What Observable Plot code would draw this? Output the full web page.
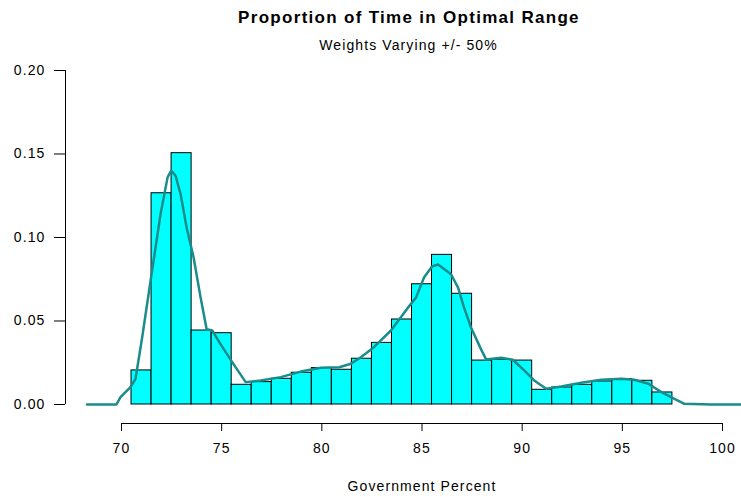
<!DOCTYPE html>
<html>
<head>
<meta charset="utf-8">
<script src="https://cdn.jsdelivr.net/npm/d3@7"></script>
<script src="https://cdn.jsdelivr.net/npm/@observablehq/plot@0.6"></script>
<style>
  html, body { margin: 0; padding: 0; background: #fff; }
  #wrap { position: relative; width: 741px; height: 497px; font-family: "Liberation Sans", Arial, sans-serif; }
  #title { position: absolute; top: 8px; left: 0; width: 818px; text-align: center; font-weight: bold; font-size: 17px; letter-spacing: 1.3px; color: #000; }
  #subtitle { position: absolute; top: 37px; left: 0; width: 817px; text-align: center; font-size: 14px; letter-spacing: 1.1px; color: #000; }
  #chart { position: absolute; top: 55px; left: 0; }
</style>
</head>
<body>
<div id="wrap">
  <div id="title">Proportion of Time in Optimal Range</div>
  <div id="subtitle">Weights Varying +/- 50%</div>
  <div id="chart"></div>
</div>
<script>
// Histogram bins (centres, width 1) and heights
const binCenters = [71,72,73,74,75,76,77,78,79,80,81,82,83,84,85,86,87,88,89,90,91,92,93,94,95,96,97];
const binHeights = [0.0204,0.1265,0.1505,0.0443,0.0427,0.0118,0.0134,0.0154,0.0190,0.0218,0.0208,0.0274,0.0369,0.0509,0.0720,0.0896,0.0663,0.0263,0.0268,0.0263,0.0088,0.0102,0.0118,0.0138,0.0152,0.0142,0.0072];

// Density curve
const densX = [68.28,69.75,69.95,70.45,70.7,71.03,71.45,71.95,72.3,72.48,72.7,72.95,73.25,73.6,73.95,74.25,74.53,74.95,75.6,76.2,76.95,77.95,78.95,79.95,80.87,81.45,81.95,82.6,83.45,84.3,84.7,85.1,85.5,85.8,86.1,86.45,86.8,87.1,87.45,87.95,88.2,88.95,89.53,90.1,90.6,91.2,91.95,92.95,93.95,94.95,95.6,96.3,96.95,97.6,98.1,99.45,100.95];
const densY = [0,0,0.0044,0.0104,0.0154,0.040,0.074,0.114,0.136,0.140,0.137,0.126,0.106,0.088,0.064,0.045,0.0443,0.036,0.024,0.0134,0.0144,0.0164,0.0197,0.0220,0.0223,0.0244,0.0283,0.0343,0.0443,0.058,0.064,0.076,0.0826,0.0838,0.0812,0.078,0.070,0.058,0.046,0.033,0.027,0.0280,0.0268,0.0204,0.0144,0.0094,0.0108,0.013,0.0148,0.0154,0.0148,0.0124,0.0074,0.0034,0.0004,0,0];

const xTicks = [70,75,80,85,90,95,100];
const yTicks = [0,0.05,0.10,0.15,0.20];

const bins = binCenters.map((c, i) => ({c, h: binHeights[i]}));
const dens = densX.map((x, i) => ({x, y: densY[i]}));

const xMin = 67.205, xMax = 100.948, yMin = -0.01138;

const chart = Plot.plot({
  width: 741,
  height: 442,
  marginLeft: 65,
  marginRight: 0,
  marginTop: 15,
  marginBottom: 74,
  style: { fontFamily: '"Liberation Sans", Arial, sans-serif', fontSize: "14px", letterSpacing: "1.1px", background: "#fff", color: "#000" },
  x: { domain: [xMin, xMax], axis: null },
  y: { domain: [yMin, 0.20], axis: null },
  marks: [
    Plot.rectY(bins, { x1: d => d.c - 0.5, x2: d => d.c + 0.5, y1: 0, y2: "h", fill: "#00FFFF", stroke: "#000", strokeWidth: 1 }),
    Plot.line(dens, { x: "x", y: "y", stroke: "#1a8c8c", strokeWidth: 2.5, curve: "linear" }),
    // x axis
    Plot.ruleY([yMin], { x1: 70, x2: 100, stroke: "#000", strokeWidth: 1 }),
    Plot.axisX({ anchor: "bottom", ticks: xTicks, tickFormat: d3.format("d"), tickSize: 8, tickPadding: 12, label: null, fontSize: 14 }),
    Plot.text(["Government Percent"], { x: 85, frameAnchor: "bottom", dy: 67, text: d => d, fontSize: 14 }),
    // y axis
    Plot.ruleX([xMin], { y1: 0, y2: 0.20, stroke: "#000", strokeWidth: 1 }),
    Plot.axisY({ anchor: "left", ticks: yTicks, tickFormat: d3.format(".2f"), tickSize: 11, tickPadding: 9, label: null, fontSize: 14 })
  ]
});
document.getElementById("chart").appendChild(chart);
</script>
</body>
</html>
